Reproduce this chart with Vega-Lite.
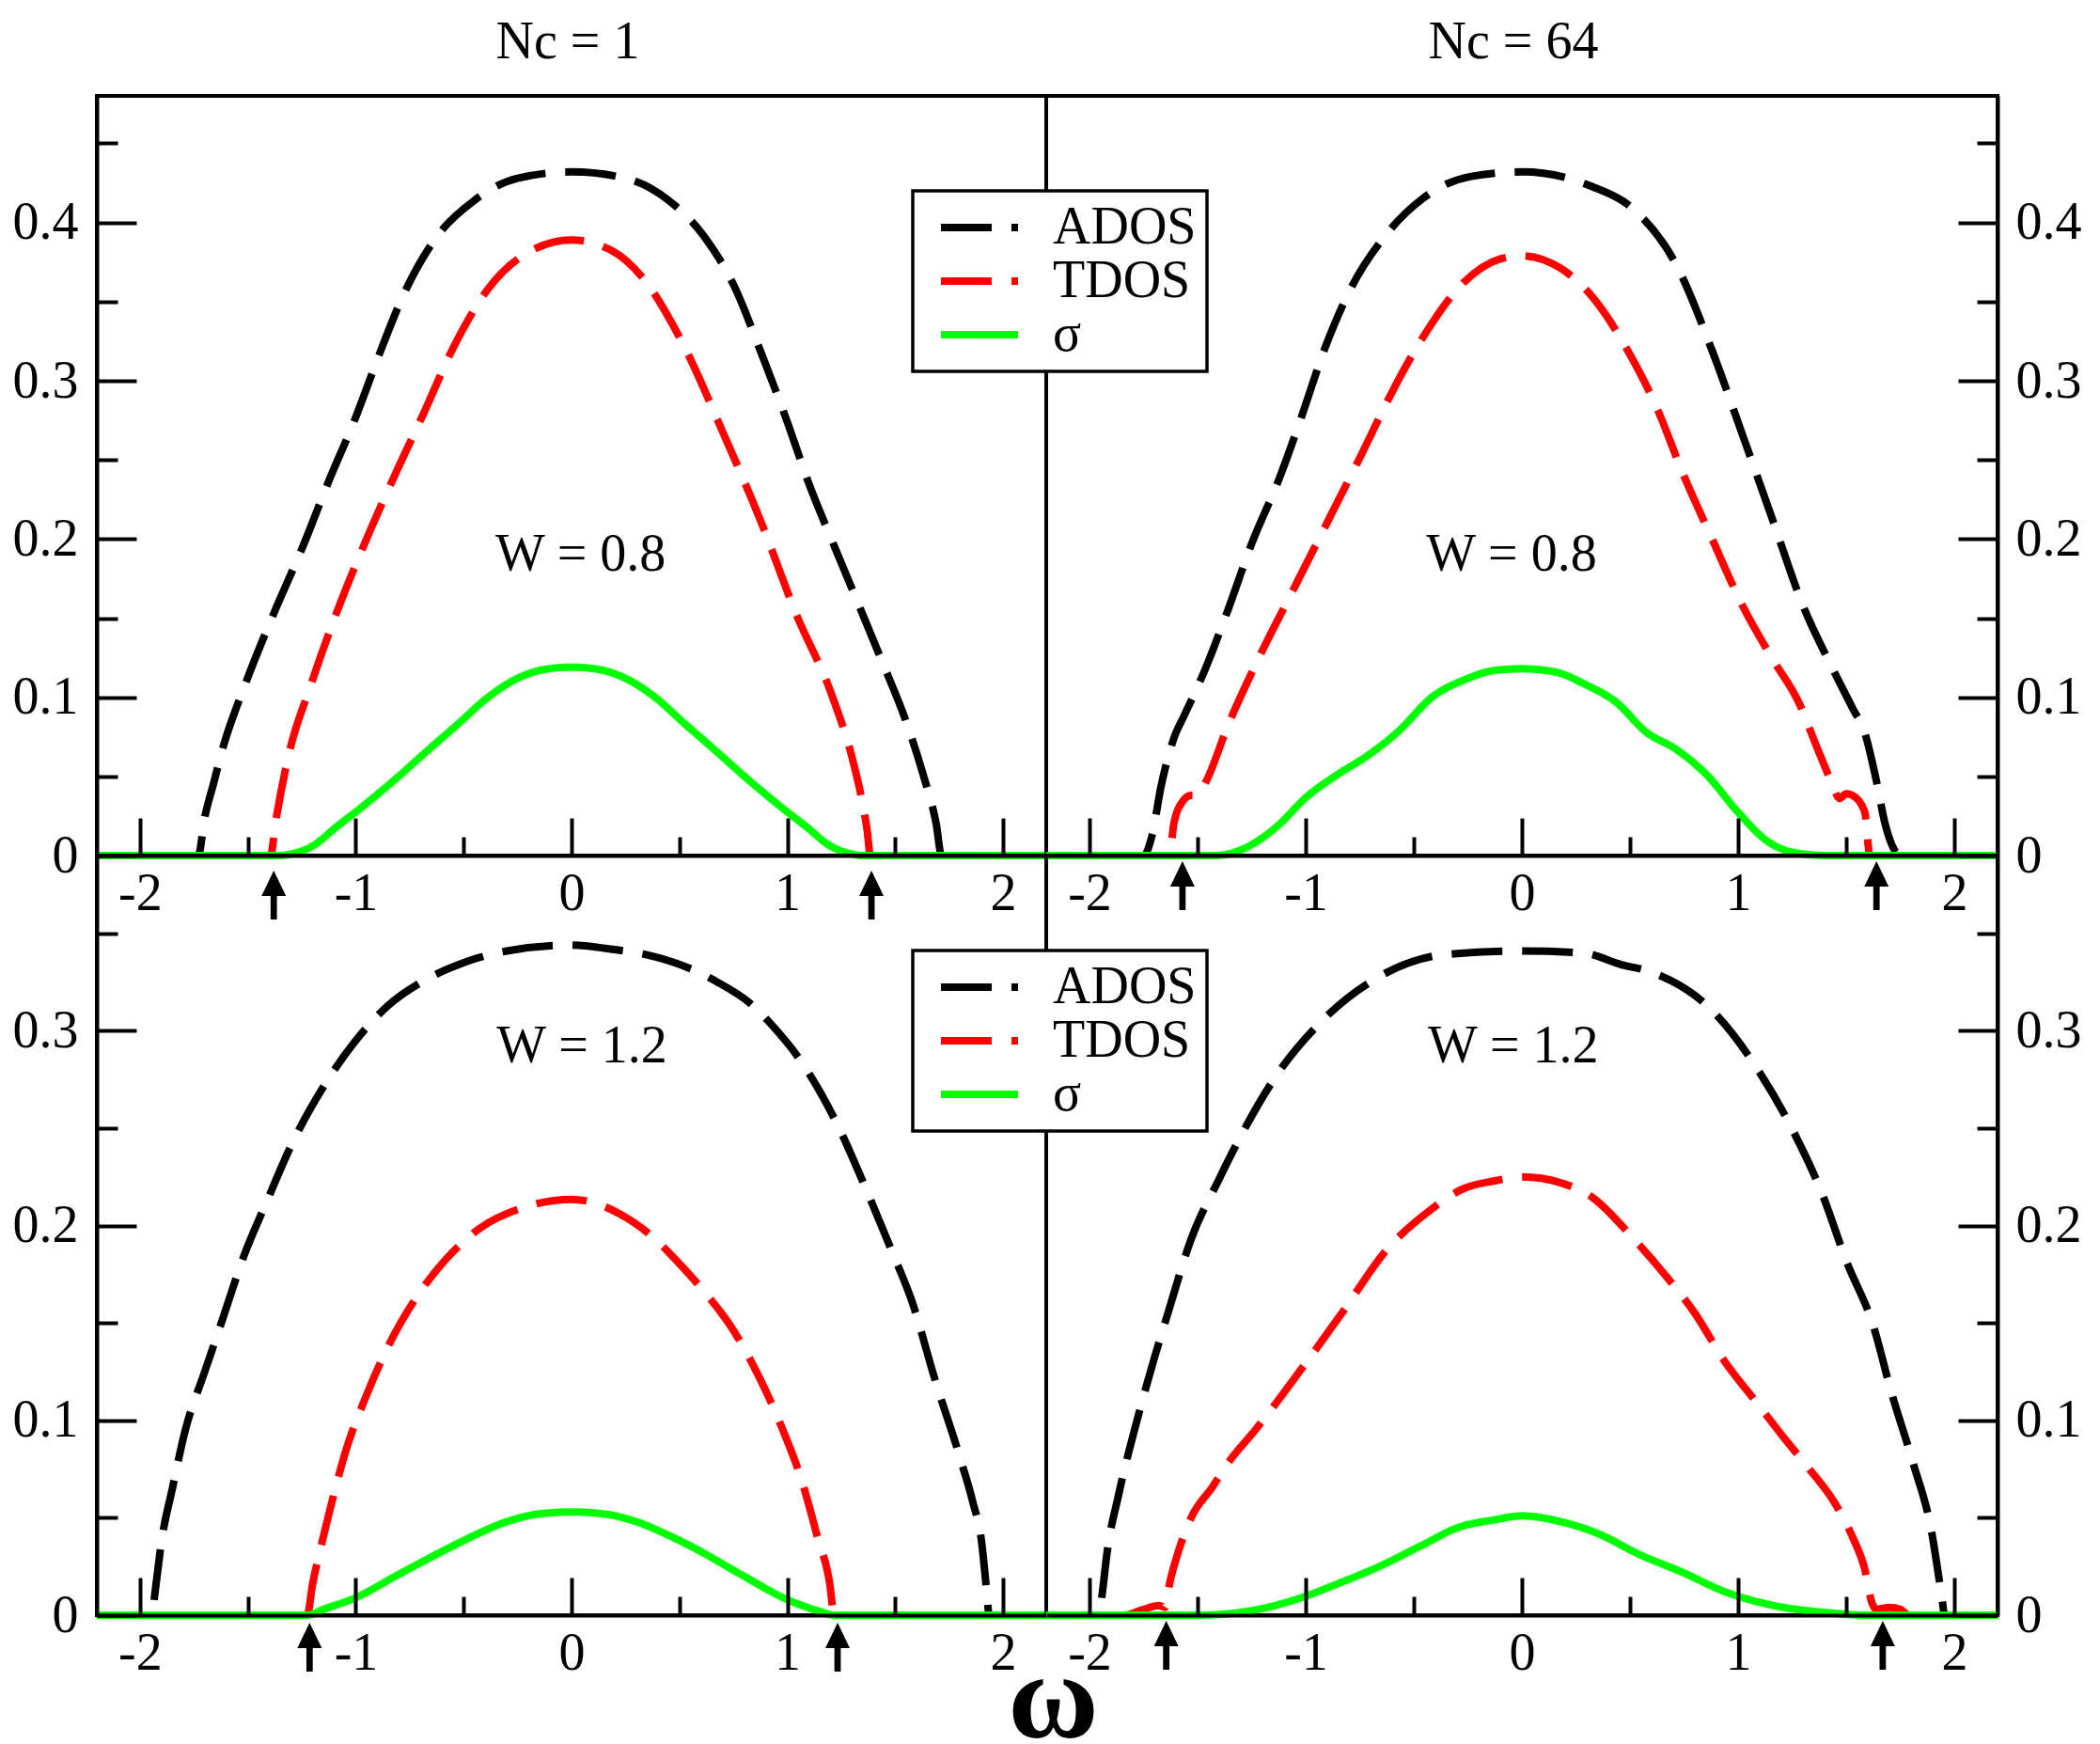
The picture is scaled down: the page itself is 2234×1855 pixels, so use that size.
{
  "$schema": "https://vega.github.io/schema/vega-lite/v6.json",
  "background": "white",
  "padding": {"left": 11, "top": 15, "right": 12, "bottom": 5},
  "columns": 2,
  "spacing": 0,
  "bounds": "flush",
  "resolve": {"scale": {"color": "independent", "strokeDash": "independent"}, "legend": {"color": "independent", "strokeDash": "independent"}},
  "config": {
    "view": {"stroke": "black", "strokeWidth": 4},
    "font": "Liberation Serif",
    "axis": {
      "grid": false,
      "domainColor": "black",
      "domainWidth": 4,
      "tickColor": "black",
      "tickWidth": 4,
      "labelFont": "Liberation Serif",
      "labelFontSize": 56,
      "labelColor": "black",
      "labelFlush": false,
      "labelOverlap": false,
      "labelBound": false
    },
    "legend": {"strokeWidth": 3.5}
  },
  "datasets": {
    "tl": [
      {"s": "ADOS", "x": -2.2, "y": 0}, {"s": "ADOS", "x": -1.73, "y": 0}, {"s": "ADOS", "x": -1.7, "y": 0.024},
      {"s": "ADOS", "x": -1.66, "y": 0.045}, {"s": "ADOS", "x": -1.62, "y": 0.066}, {"s": "ADOS", "x": -1.51, "y": 0.109},
      {"s": "ADOS", "x": -1.38, "y": 0.153}, {"s": "ADOS", "x": -1.24, "y": 0.197}, {"s": "ADOS", "x": -1.13, "y": 0.235},
      {"s": "ADOS", "x": -1.0, "y": 0.277}, {"s": "ADOS", "x": -0.89, "y": 0.317}, {"s": "ADOS", "x": -0.78, "y": 0.354},
      {"s": "ADOS", "x": -0.63, "y": 0.39}, {"s": "ADOS", "x": -0.45, "y": 0.414}, {"s": "ADOS", "x": -0.25, "y": 0.428},
      {"s": "ADOS", "x": 0, "y": 0.432}, {"s": "ADOS", "x": 0.25, "y": 0.428}, {"s": "ADOS", "x": 0.45, "y": 0.414},
      {"s": "ADOS", "x": 0.61, "y": 0.392}, {"s": "ADOS", "x": 0.76, "y": 0.358}, {"s": "ADOS", "x": 0.875, "y": 0.319},
      {"s": "ADOS", "x": 1.0, "y": 0.274}, {"s": "ADOS", "x": 1.1, "y": 0.235}, {"s": "ADOS", "x": 1.21, "y": 0.198},
      {"s": "ADOS", "x": 1.32, "y": 0.162}, {"s": "ADOS", "x": 1.435, "y": 0.124}, {"s": "ADOS", "x": 1.547, "y": 0.086},
      {"s": "ADOS", "x": 1.63, "y": 0.051}, {"s": "ADOS", "x": 1.69, "y": 0.02}, {"s": "ADOS", "x": 1.715, "y": 0},
      {"s": "ADOS", "x": 2.2, "y": 0},
      {"s": "TDOS", "x": -2.2, "y": 0}, {"s": "TDOS", "x": -1.396, "y": 0}, {"s": "TDOS", "x": -1.368, "y": 0.024},
      {"s": "TDOS", "x": -1.31, "y": 0.064}, {"s": "TDOS", "x": -1.21, "y": 0.107}, {"s": "TDOS", "x": -1.09, "y": 0.153},
      {"s": "TDOS", "x": -0.95, "y": 0.2}, {"s": "TDOS", "x": -0.81, "y": 0.243}, {"s": "TDOS", "x": -0.68, "y": 0.281},
      {"s": "TDOS", "x": -0.555, "y": 0.319}, {"s": "TDOS", "x": -0.387, "y": 0.358}, {"s": "TDOS", "x": -0.19, "y": 0.382},
      {"s": "TDOS", "x": 0, "y": 0.389}, {"s": "TDOS", "x": 0.19, "y": 0.382}, {"s": "TDOS", "x": 0.342, "y": 0.363},
      {"s": "TDOS", "x": 0.51, "y": 0.325}, {"s": "TDOS", "x": 0.706, "y": 0.266}, {"s": "TDOS", "x": 0.875, "y": 0.212},
      {"s": "TDOS", "x": 1.04, "y": 0.153}, {"s": "TDOS", "x": 1.21, "y": 0.1}, {"s": "TDOS", "x": 1.3, "y": 0.062},
      {"s": "TDOS", "x": 1.35, "y": 0.032}, {"s": "TDOS", "x": 1.37, "y": 0.016}, {"s": "TDOS", "x": 1.385, "y": 0},
      {"s": "TDOS", "x": 2.2, "y": 0},
      {"s": "σ", "x": -2.2, "y": 0}, {"s": "σ", "x": -1.35, "y": 0}, {"s": "σ", "x": -1.3, "y": 0.001},
      {"s": "σ", "x": -1.2, "y": 0.006}, {"s": "σ", "x": -1.09, "y": 0.018}, {"s": "σ", "x": -0.95, "y": 0.033},
      {"s": "σ", "x": -0.81, "y": 0.049}, {"s": "σ", "x": -0.67, "y": 0.066}, {"s": "σ", "x": -0.527, "y": 0.083},
      {"s": "σ", "x": -0.387, "y": 0.1}, {"s": "σ", "x": -0.25, "y": 0.112}, {"s": "σ", "x": -0.107, "y": 0.118},
      {"s": "σ", "x": 0, "y": 0.119}, {"s": "σ", "x": 0.107, "y": 0.118}, {"s": "σ", "x": 0.25, "y": 0.112},
      {"s": "σ", "x": 0.387, "y": 0.1}, {"s": "σ", "x": 0.527, "y": 0.083}, {"s": "σ", "x": 0.67, "y": 0.066},
      {"s": "σ", "x": 0.81, "y": 0.049}, {"s": "σ", "x": 0.95, "y": 0.033}, {"s": "σ", "x": 1.09, "y": 0.018},
      {"s": "σ", "x": 1.2, "y": 0.006}, {"s": "σ", "x": 1.3, "y": 0.001}, {"s": "σ", "x": 1.35, "y": 0},
      {"s": "σ", "x": 2.2, "y": 0}
    ],
    "tr": [
      {"s": "ADOS", "x": -2.2, "y": 0}, {"s": "ADOS", "x": -1.75, "y": 0}, {"s": "ADOS", "x": -1.71, "y": 0.013},
      {"s": "ADOS", "x": -1.67, "y": 0.043}, {"s": "ADOS", "x": -1.61, "y": 0.074}, {"s": "ADOS", "x": -1.56, "y": 0.089},
      {"s": "ADOS", "x": -1.47, "y": 0.116}, {"s": "ADOS", "x": -1.36, "y": 0.155}, {"s": "ADOS", "x": -1.25, "y": 0.197},
      {"s": "ADOS", "x": -1.12, "y": 0.239}, {"s": "ADOS", "x": -1.02, "y": 0.277}, {"s": "ADOS", "x": -0.91, "y": 0.321},
      {"s": "ADOS", "x": -0.8, "y": 0.356}, {"s": "ADOS", "x": -0.63, "y": 0.392}, {"s": "ADOS", "x": -0.46, "y": 0.415},
      {"s": "ADOS", "x": -0.24, "y": 0.429}, {"s": "ADOS", "x": 0, "y": 0.432}, {"s": "ADOS", "x": 0.32, "y": 0.423},
      {"s": "ADOS", "x": 0.52, "y": 0.408}, {"s": "ADOS", "x": 0.715, "y": 0.373}, {"s": "ADOS", "x": 0.88, "y": 0.319},
      {"s": "ADOS", "x": 1.02, "y": 0.266}, {"s": "ADOS", "x": 1.16, "y": 0.212}, {"s": "ADOS", "x": 1.3, "y": 0.158},
      {"s": "ADOS", "x": 1.445, "y": 0.116}, {"s": "ADOS", "x": 1.53, "y": 0.093}, {"s": "ADOS", "x": 1.585, "y": 0.078},
      {"s": "ADOS", "x": 1.64, "y": 0.047}, {"s": "ADOS", "x": 1.68, "y": 0.02}, {"s": "ADOS", "x": 1.725, "y": 0.003},
      {"s": "ADOS", "x": 1.75, "y": 0}, {"s": "ADOS", "x": 2.2, "y": 0},
      {"s": "TDOS", "x": -2.2, "y": 0}, {"s": "TDOS", "x": -1.63, "y": 0}, {"s": "TDOS", "x": -1.61, "y": 0.02},
      {"s": "TDOS", "x": -1.57, "y": 0.034}, {"s": "TDOS", "x": -1.53, "y": 0.038}, {"s": "TDOS", "x": -1.5, "y": 0.038},
      {"s": "TDOS", "x": -1.46, "y": 0.047}, {"s": "TDOS", "x": -1.36, "y": 0.082}, {"s": "TDOS", "x": -1.22, "y": 0.124},
      {"s": "TDOS", "x": -1.05, "y": 0.17}, {"s": "TDOS", "x": -0.88, "y": 0.216}, {"s": "TDOS", "x": -0.74, "y": 0.254},
      {"s": "TDOS", "x": -0.6, "y": 0.293}, {"s": "TDOS", "x": -0.46, "y": 0.327}, {"s": "TDOS", "x": -0.27, "y": 0.362},
      {"s": "TDOS", "x": -0.1, "y": 0.377}, {"s": "TDOS", "x": 0, "y": 0.379}, {"s": "TDOS", "x": 0.18, "y": 0.371},
      {"s": "TDOS", "x": 0.32, "y": 0.354}, {"s": "TDOS", "x": 0.49, "y": 0.319}, {"s": "TDOS", "x": 0.63, "y": 0.281},
      {"s": "TDOS", "x": 0.74, "y": 0.243}, {"s": "TDOS", "x": 0.88, "y": 0.2}, {"s": "TDOS", "x": 1.02, "y": 0.158},
      {"s": "TDOS", "x": 1.16, "y": 0.124}, {"s": "TDOS", "x": 1.28, "y": 0.097}, {"s": "TDOS", "x": 1.36, "y": 0.07},
      {"s": "TDOS", "x": 1.43, "y": 0.047}, {"s": "TDOS", "x": 1.47, "y": 0.036}, {"s": "TDOS", "x": 1.5, "y": 0.039},
      {"s": "TDOS", "x": 1.53, "y": 0.038}, {"s": "TDOS", "x": 1.585, "y": 0.028}, {"s": "TDOS", "x": 1.61, "y": 0},
      {"s": "TDOS", "x": 2.2, "y": 0},
      {"s": "σ", "x": -2.2, "y": 0}, {"s": "σ", "x": -1.42, "y": 0}, {"s": "σ", "x": -1.276, "y": 0.005},
      {"s": "σ", "x": -1.136, "y": 0.018}, {"s": "σ", "x": -0.996, "y": 0.037}, {"s": "σ", "x": -0.855, "y": 0.051},
      {"s": "σ", "x": -0.715, "y": 0.063}, {"s": "σ", "x": -0.575, "y": 0.078}, {"s": "σ", "x": -0.407, "y": 0.101},
      {"s": "σ", "x": -0.266, "y": 0.111}, {"s": "σ", "x": -0.126, "y": 0.117}, {"s": "σ", "x": 0, "y": 0.118},
      {"s": "σ", "x": 0.154, "y": 0.116}, {"s": "σ", "x": 0.295, "y": 0.108}, {"s": "σ", "x": 0.435, "y": 0.097},
      {"s": "σ", "x": 0.575, "y": 0.078}, {"s": "σ", "x": 0.715, "y": 0.067}, {"s": "σ", "x": 0.855, "y": 0.051},
      {"s": "σ", "x": 0.996, "y": 0.028}, {"s": "σ", "x": 1.136, "y": 0.009}, {"s": "σ", "x": 1.3, "y": 0.001},
      {"s": "σ", "x": 1.42, "y": 0}, {"s": "σ", "x": 2.2, "y": 0}
    ],
    "bl": [
      {"s": "ADOS", "x": -2.2, "y": 0}, {"s": "ADOS", "x": -1.945, "y": 0}, {"s": "ADOS", "x": -1.93, "y": 0.012},
      {"s": "ADOS", "x": -1.9, "y": 0.038}, {"s": "ADOS", "x": -1.85, "y": 0.065}, {"s": "ADOS", "x": -1.79, "y": 0.095},
      {"s": "ADOS", "x": -1.7, "y": 0.125}, {"s": "ADOS", "x": -1.62, "y": 0.151}, {"s": "ADOS", "x": -1.52, "y": 0.184},
      {"s": "ADOS", "x": -1.41, "y": 0.213}, {"s": "ADOS", "x": -1.3, "y": 0.241}, {"s": "ADOS", "x": -1.14, "y": 0.273},
      {"s": "ADOS", "x": -1.0, "y": 0.295}, {"s": "ADOS", "x": -0.85, "y": 0.313}, {"s": "ADOS", "x": -0.68, "y": 0.326},
      {"s": "ADOS", "x": -0.5, "y": 0.335}, {"s": "ADOS", "x": -0.3, "y": 0.341}, {"s": "ADOS", "x": 0, "y": 0.344},
      {"s": "ADOS", "x": 0.18, "y": 0.342}, {"s": "ADOS", "x": 0.35, "y": 0.339}, {"s": "ADOS", "x": 0.57, "y": 0.331},
      {"s": "ADOS", "x": 0.66, "y": 0.326}, {"s": "ADOS", "x": 0.85, "y": 0.312}, {"s": "ADOS", "x": 0.92, "y": 0.304},
      {"s": "ADOS", "x": 1.066, "y": 0.284}, {"s": "ADOS", "x": 1.227, "y": 0.253}, {"s": "ADOS", "x": 1.364, "y": 0.219},
      {"s": "ADOS", "x": 1.488, "y": 0.186}, {"s": "ADOS", "x": 1.575, "y": 0.162}, {"s": "ADOS", "x": 1.687, "y": 0.12},
      {"s": "ADOS", "x": 1.8, "y": 0.081}, {"s": "ADOS", "x": 1.86, "y": 0.058}, {"s": "ADOS", "x": 1.9, "y": 0.038},
      {"s": "ADOS", "x": 1.925, "y": 0.011}, {"s": "ADOS", "x": 1.935, "y": 0}, {"s": "ADOS", "x": 2.2, "y": 0},
      {"s": "TDOS", "x": -2.2, "y": 0}, {"s": "TDOS", "x": -1.225, "y": 0}, {"s": "TDOS", "x": -1.2, "y": 0.016},
      {"s": "TDOS", "x": -1.17, "y": 0.031}, {"s": "TDOS", "x": -1.12, "y": 0.054}, {"s": "TDOS", "x": -1.05, "y": 0.083},
      {"s": "TDOS", "x": -0.95, "y": 0.113}, {"s": "TDOS", "x": -0.85, "y": 0.138}, {"s": "TDOS", "x": -0.72, "y": 0.163},
      {"s": "TDOS", "x": -0.58, "y": 0.183}, {"s": "TDOS", "x": -0.42, "y": 0.199}, {"s": "TDOS", "x": -0.23, "y": 0.209},
      {"s": "TDOS", "x": 0, "y": 0.2135}, {"s": "TDOS", "x": 0.224, "y": 0.206}, {"s": "TDOS", "x": 0.408, "y": 0.191},
      {"s": "TDOS", "x": 0.478, "y": 0.183}, {"s": "TDOS", "x": 0.623, "y": 0.165}, {"s": "TDOS", "x": 0.734, "y": 0.149},
      {"s": "TDOS", "x": 0.875, "y": 0.121}, {"s": "TDOS", "x": 0.987, "y": 0.093}, {"s": "TDOS", "x": 1.07, "y": 0.068},
      {"s": "TDOS", "x": 1.14, "y": 0.04}, {"s": "TDOS", "x": 1.197, "y": 0.016}, {"s": "TDOS", "x": 1.217, "y": 0},
      {"s": "TDOS", "x": 2.2, "y": 0},
      {"s": "σ", "x": -2.2, "y": 0}, {"s": "σ", "x": -1.225, "y": 0}, {"s": "σ", "x": -1.15, "y": 0.003},
      {"s": "σ", "x": -1.0, "y": 0.009}, {"s": "σ", "x": -0.8, "y": 0.021}, {"s": "σ", "x": -0.56, "y": 0.035},
      {"s": "σ", "x": -0.45, "y": 0.041}, {"s": "σ", "x": -0.3, "y": 0.048}, {"s": "σ", "x": -0.15, "y": 0.052},
      {"s": "σ", "x": 0, "y": 0.053}, {"s": "σ", "x": 0.15, "y": 0.052}, {"s": "σ", "x": 0.3, "y": 0.048},
      {"s": "σ", "x": 0.45, "y": 0.041}, {"s": "σ", "x": 0.56, "y": 0.035}, {"s": "σ", "x": 0.8, "y": 0.02},
      {"s": "σ", "x": 1.0, "y": 0.008}, {"s": "σ", "x": 1.15, "y": 0.002}, {"s": "σ", "x": 1.22, "y": 0},
      {"s": "σ", "x": 2.2, "y": 0}
    ],
    "br": [
      {"s": "ADOS", "x": -2.2, "y": 0}, {"s": "ADOS", "x": -1.955, "y": 0}, {"s": "ADOS", "x": -1.94, "y": 0.012},
      {"s": "ADOS", "x": -1.92, "y": 0.031}, {"s": "ADOS", "x": -1.865, "y": 0.062}, {"s": "ADOS", "x": -1.78, "y": 0.1},
      {"s": "ADOS", "x": -1.7, "y": 0.132}, {"s": "ADOS", "x": -1.64, "y": 0.154}, {"s": "ADOS", "x": -1.53, "y": 0.193},
      {"s": "ADOS", "x": -1.4, "y": 0.224}, {"s": "ADOS", "x": -1.3, "y": 0.246}, {"s": "ADOS", "x": -1.136, "y": 0.277},
      {"s": "ADOS", "x": -0.926, "y": 0.305}, {"s": "ADOS", "x": -0.673, "y": 0.327}, {"s": "ADOS", "x": -0.365, "y": 0.339},
      {"s": "ADOS", "x": 0, "y": 0.341}, {"s": "ADOS", "x": 0.28, "y": 0.34}, {"s": "ADOS", "x": 0.46, "y": 0.334},
      {"s": "ADOS", "x": 0.603, "y": 0.33}, {"s": "ADOS", "x": 0.884, "y": 0.31}, {"s": "ADOS", "x": 1.08, "y": 0.282},
      {"s": "ADOS", "x": 1.248, "y": 0.25}, {"s": "ADOS", "x": 1.39, "y": 0.216}, {"s": "ADOS", "x": 1.5, "y": 0.182},
      {"s": "ADOS", "x": 1.627, "y": 0.148}, {"s": "ADOS", "x": 1.71, "y": 0.114}, {"s": "ADOS", "x": 1.81, "y": 0.078},
      {"s": "ADOS", "x": 1.893, "y": 0.044}, {"s": "ADOS", "x": 1.944, "y": 0.008}, {"s": "ADOS", "x": 1.955, "y": 0},
      {"s": "ADOS", "x": 2.2, "y": 0},
      {"s": "TDOS", "x": -2.2, "y": 0}, {"s": "TDOS", "x": -1.84, "y": 0}, {"s": "TDOS", "x": -1.75, "y": 0.003},
      {"s": "TDOS", "x": -1.68, "y": 0.005}, {"s": "TDOS", "x": -1.65, "y": 0.004}, {"s": "TDOS", "x": -1.63, "y": 0.016},
      {"s": "TDOS", "x": -1.585, "y": 0.034}, {"s": "TDOS", "x": -1.53, "y": 0.05}, {"s": "TDOS", "x": -1.43, "y": 0.066},
      {"s": "TDOS", "x": -1.36, "y": 0.078}, {"s": "TDOS", "x": -1.234, "y": 0.095}, {"s": "TDOS", "x": -1.136, "y": 0.109},
      {"s": "TDOS", "x": -0.996, "y": 0.13}, {"s": "TDOS", "x": -0.827, "y": 0.156}, {"s": "TDOS", "x": -0.63, "y": 0.187},
      {"s": "TDOS", "x": -0.435, "y": 0.207}, {"s": "TDOS", "x": -0.27, "y": 0.219}, {"s": "TDOS", "x": -0.126, "y": 0.223},
      {"s": "TDOS", "x": 0, "y": 0.225}, {"s": "TDOS", "x": 0.18, "y": 0.222}, {"s": "TDOS", "x": 0.32, "y": 0.215},
      {"s": "TDOS", "x": 0.519, "y": 0.193}, {"s": "TDOS", "x": 0.66, "y": 0.175}, {"s": "TDOS", "x": 0.8, "y": 0.155},
      {"s": "TDOS", "x": 0.94, "y": 0.13}, {"s": "TDOS", "x": 1.08, "y": 0.11}, {"s": "TDOS", "x": 1.22, "y": 0.09},
      {"s": "TDOS", "x": 1.33, "y": 0.075}, {"s": "TDOS", "x": 1.445, "y": 0.058}, {"s": "TDOS", "x": 1.53, "y": 0.04},
      {"s": "TDOS", "x": 1.585, "y": 0.024}, {"s": "TDOS", "x": 1.62, "y": 0.006}, {"s": "TDOS", "x": 1.64, "y": 0.003},
      {"s": "TDOS", "x": 1.7, "y": 0.004}, {"s": "TDOS", "x": 1.75, "y": 0.003}, {"s": "TDOS", "x": 1.79, "y": 0},
      {"s": "TDOS", "x": 2.2, "y": 0},
      {"s": "σ", "x": -2.2, "y": 0}, {"s": "σ", "x": -1.5, "y": 0}, {"s": "σ", "x": -1.22, "y": 0.003},
      {"s": "σ", "x": -1.02, "y": 0.009}, {"s": "σ", "x": -0.855, "y": 0.016}, {"s": "σ", "x": -0.66, "y": 0.025},
      {"s": "σ", "x": -0.46, "y": 0.036}, {"s": "σ", "x": -0.295, "y": 0.045}, {"s": "σ", "x": -0.126, "y": 0.049},
      {"s": "σ", "x": 0, "y": 0.051}, {"s": "σ", "x": 0.18, "y": 0.048}, {"s": "σ", "x": 0.35, "y": 0.042},
      {"s": "σ", "x": 0.547, "y": 0.031}, {"s": "σ", "x": 0.743, "y": 0.022}, {"s": "σ", "x": 0.94, "y": 0.012},
      {"s": "σ", "x": 1.164, "y": 0.005}, {"s": "σ", "x": 1.445, "y": 0.001}, {"s": "σ", "x": 1.585, "y": 0},
      {"s": "σ", "x": 2.2, "y": 0}
    ]
  },
  "concat": [
    {
      "width": 1010,
      "height": 808,
      "title": {"text": "Nc = 1", "frame": "group", "anchor": "middle", "baseline": "alphabetic", "offset": -16, "dx": -4, "font": "Liberation Serif", "fontSize": 56, "fontWeight": "normal", "color": "black"},
      "layer": [
        {
          "data": {"name": "tl"},
          "mark": {"type": "line", "strokeWidth": 8, "interpolate": "monotone"},
          "encoding": {
            "x": {"field": "x", "type": "quantitative", "scale": {"domain": [-2.2, 2.2], "nice": false, "zero": false},
              "axis": {"values": [-2, -1.5, -1, -0.5, 0, 0.5, 1, 1.5, 2], "title": null, "zindex": 1,
                "labelExpr": "datum.value % 1 === 0 ? replace(format(datum.value, 'd'), '−', '-') : ''",
                "tickSize": {"condition": {"test": "datum.value % 1 === 0", "value": -40}, "value": -20},
                "labelPadding": 53}},
            "y": {"field": "y", "type": "quantitative", "scale": {"domain": [0, 0.48], "nice": false},
              "axis": {"orient": "left", "values": [0, 0.05, 0.1, 0.15, 0.2, 0.25, 0.3, 0.35, 0.4, 0.45], "title": null, "zindex": 1,
                "labelExpr": "abs(datum.value * 10 - round(datum.value * 10)) < 0.01 ? format(datum.value, '.1~f') : ''",
                "tickSize": {"condition": {"test": "abs(datum.value * 10 - round(datum.value * 10)) < 0.01", "value": -42}, "value": -22},
                "labelPadding": 62}},
            "color": {"field": "s", "type": "nominal", "scale": {"domain": ["ADOS", "TDOS", "σ"], "range": ["#000000", "#ff0000", "#00ff00"]}, "legend": null},
            "strokeDash": {"field": "s", "type": "nominal", "scale": {"domain": ["ADOS", "TDOS", "σ"], "range": [[54, 21], [54, 21], [1, 0]]}, "legend": null}
          }
        },
        {
          "data": {"values": [{"x": -1.38}, {"x": 1.39}]},
          "mark": {"type": "point", "shape": "M0,-1L0.5,0.04L0.13,0.04L0.13,1L-0.13,1L-0.13,0.04L-0.5,0.04Z", "size": 2704, "filled": true, "color": "black", "opacity": 1, "strokeWidth": 0, "yOffset": 42},
          "encoding": {
            "x": {"field": "x", "type": "quantitative", "scale": {"domain": [-2.2, 2.2], "nice": false, "zero": false}},
            "y": {"datum": 0, "type": "quantitative", "scale": {"domain": [0, 0.48], "nice": false}}
          }
        },
        {
          "data": {"values": [{"x": 0.042, "y": 0.19, "t": "W = 0.8"}]},
          "mark": {"type": "text", "font": "Liberation Serif", "fontSize": 56, "color": "black", "align": "center", "baseline": "middle"},
          "encoding": {
            "x": {"field": "x", "type": "quantitative", "scale": {"domain": [-2.2, 2.2], "nice": false, "zero": false}},
            "y": {"field": "y", "type": "quantitative", "scale": {"domain": [0, 0.48], "nice": false}},
            "text": {"field": "t"}
          }
        }
      ]
    },
    {
      "width": 1012,
      "height": 808,
      "title": {"text": "Nc = 64", "frame": "group", "anchor": "middle", "baseline": "alphabetic", "offset": -16, "dx": -9, "font": "Liberation Serif", "fontSize": 56, "fontWeight": "normal", "color": "black"},
      "layer": [
        {
          "data": {"name": "tr"},
          "mark": {"type": "line", "strokeWidth": 8, "interpolate": "monotone"},
          "encoding": {
            "x": {"field": "x", "type": "quantitative", "scale": {"domain": [-2.2, 2.2], "nice": false, "zero": false},
              "axis": {"values": [-2, -1.5, -1, -0.5, 0, 0.5, 1, 1.5, 2], "title": null, "zindex": 1,
                "labelExpr": "datum.value % 1 === 0 ? replace(format(datum.value, 'd'), '−', '-') : ''",
                "tickSize": {"condition": {"test": "datum.value % 1 === 0", "value": -40}, "value": -20},
                "labelPadding": 53}},
            "y": {"field": "y", "type": "quantitative", "scale": {"domain": [0, 0.48], "nice": false},
              "axis": {"orient": "right", "values": [0, 0.05, 0.1, 0.15, 0.2, 0.25, 0.3, 0.35, 0.4, 0.45], "title": null, "zindex": 1,
                "labelExpr": "abs(datum.value * 10 - round(datum.value * 10)) < 0.01 ? format(datum.value, '.1~f') : ''",
                "tickSize": {"condition": {"test": "abs(datum.value * 10 - round(datum.value * 10)) < 0.01", "value": -42}, "value": -22},
                "labelPadding": 61}},
            "color": {"field": "s", "type": "nominal", "scale": {"domain": ["ADOS", "TDOS", "σ"], "range": ["#000000", "#ff0000", "#00ff00"]},
              "legend": {"orient": "none", "legendX": -142, "legendY": 101, "title": null, "symbolType": "stroke", "symbolSize": 6724, "symbolStrokeWidth": 8, "symbolOffset": 15, "labelOffset": 33, "labelFont": "Liberation Serif", "labelFontSize": 56, "labelColor": "black", "labelLimit": 400, "padding": 11, "clipHeight": 56, "rowPadding": 1, "strokeColor": "black", "fillColor": "white", "labelExpr": "(datum.label === 'σ' ? '\u00a0σ' : datum.label) + '\u2009'", "zindex": 1}},
            "strokeDash": {"field": "s", "type": "nominal", "scale": {"domain": ["ADOS", "TDOS", "σ"], "range": [[54, 21], [54, 21], [1, 0]]},
              "legend": {"orient": "none", "legendX": -142, "legendY": 101, "title": null, "symbolType": "stroke", "symbolSize": 6724, "symbolStrokeWidth": 8, "symbolOffset": 15, "labelOffset": 33, "labelFont": "Liberation Serif", "labelFontSize": 56, "labelColor": "black", "labelLimit": 400, "padding": 11, "clipHeight": 56, "rowPadding": 1, "strokeColor": "black", "fillColor": "white", "labelExpr": "(datum.label === 'σ' ? '\u00a0σ' : datum.label) + '\u2009'", "zindex": 1}}
          }
        },
        {
          "data": {"values": [{"x": -1.57}, {"x": 1.64}]},
          "mark": {"type": "point", "shape": "M0,-1L0.5,0.04L0.13,0.04L0.13,1L-0.13,1L-0.13,0.04L-0.5,0.04Z", "size": 2704, "filled": true, "color": "black", "opacity": 1, "strokeWidth": 0, "yOffset": 32},
          "encoding": {
            "x": {"field": "x", "type": "quantitative", "scale": {"domain": [-2.2, 2.2], "nice": false, "zero": false}},
            "y": {"datum": 0, "type": "quantitative", "scale": {"domain": [0, 0.48], "nice": false}}
          }
        },
        {
          "data": {"values": [{"x": -0.048, "y": 0.19, "t": "W = 0.8"}]},
          "mark": {"type": "text", "font": "Liberation Serif", "fontSize": 56, "color": "black", "align": "center", "baseline": "middle"},
          "encoding": {
            "x": {"field": "x", "type": "quantitative", "scale": {"domain": [-2.2, 2.2], "nice": false, "zero": false}},
            "y": {"field": "y", "type": "quantitative", "scale": {"domain": [0, 0.48], "nice": false}},
            "text": {"field": "t"}
          }
        }
      ]
    },
    {
      "width": 1010,
      "height": 808,
      "layer": [
        {
          "data": {"name": "bl"},
          "mark": {"type": "line", "strokeWidth": 8, "interpolate": "monotone"},
          "encoding": {
            "x": {"field": "x", "type": "quantitative", "scale": {"domain": [-2.2, 2.2], "nice": false, "zero": false},
              "axis": {"values": [-2, -1.5, -1, -0.5, 0, 0.5, 1, 1.5, 2], "zindex": 1,
                "labelExpr": "datum.value % 1 === 0 ? replace(format(datum.value, 'd'), '−', '-') : ''",
                "tickSize": {"condition": {"test": "datum.value % 1 === 0", "value": -40}, "value": -20},
                "labelPadding": 53,
                "title": "ω", "titleFont": "Liberation Serif", "titleFontSize": 132, "titleFontWeight": "bold", "titleColor": "black",
                "titleX": 1017, "titleY": 129, "titleAlign": "center", "titleBaseline": "alphabetic"}},
            "y": {"field": "y", "type": "quantitative", "scale": {"domain": [0, 0.39], "nice": false},
              "axis": {"orient": "left", "values": [0, 0.05, 0.1, 0.15, 0.2, 0.25, 0.3, 0.35], "title": null, "zindex": 1,
                "labelExpr": "abs(datum.value * 10 - round(datum.value * 10)) < 0.01 ? format(datum.value, '.1~f') : ''",
                "tickSize": {"condition": {"test": "abs(datum.value * 10 - round(datum.value * 10)) < 0.01", "value": -42}, "value": -22},
                "labelPadding": 62}},
            "color": {"field": "s", "type": "nominal", "scale": {"domain": ["ADOS", "TDOS", "σ"], "range": ["#000000", "#ff0000", "#00ff00"]}, "legend": null},
            "strokeDash": {"field": "s", "type": "nominal", "scale": {"domain": ["ADOS", "TDOS", "σ"], "range": [[54, 21], [54, 21], [1, 0]]}, "legend": null}
          }
        },
        {
          "data": {"values": [{"x": -1.214}, {"x": 1.233}]},
          "mark": {"type": "point", "shape": "M0,-1L0.5,0.04L0.13,0.04L0.13,1L-0.13,1L-0.13,0.04L-0.5,0.04Z", "size": 2704, "filled": true, "color": "black", "opacity": 1, "strokeWidth": 0, "yOffset": 34},
          "encoding": {
            "x": {"field": "x", "type": "quantitative", "scale": {"domain": [-2.2, 2.2], "nice": false, "zero": false}},
            "y": {"datum": 0, "type": "quantitative", "scale": {"domain": [0, 0.39], "nice": false}}
          }
        },
        {
          "data": {"values": [{"x": 0.048, "y": 0.292, "t": "W = 1.2"}]},
          "mark": {"type": "text", "font": "Liberation Serif", "fontSize": 56, "color": "black", "align": "center", "baseline": "middle"},
          "encoding": {
            "x": {"field": "x", "type": "quantitative", "scale": {"domain": [-2.2, 2.2], "nice": false, "zero": false}},
            "y": {"field": "y", "type": "quantitative", "scale": {"domain": [0, 0.39], "nice": false}},
            "text": {"field": "t"}
          }
        }
      ]
    },
    {
      "width": 1012,
      "height": 808,
      "layer": [
        {
          "data": {"name": "br"},
          "mark": {"type": "line", "strokeWidth": 8, "interpolate": "monotone"},
          "encoding": {
            "x": {"field": "x", "type": "quantitative", "scale": {"domain": [-2.2, 2.2], "nice": false, "zero": false},
              "axis": {"values": [-2, -1.5, -1, -0.5, 0, 0.5, 1, 1.5, 2], "title": null, "zindex": 1,
                "labelExpr": "datum.value % 1 === 0 ? replace(format(datum.value, 'd'), '−', '-') : ''",
                "tickSize": {"condition": {"test": "datum.value % 1 === 0", "value": -40}, "value": -20},
                "labelPadding": 53}},
            "y": {"field": "y", "type": "quantitative", "scale": {"domain": [0, 0.39], "nice": false},
              "axis": {"orient": "right", "values": [0, 0.05, 0.1, 0.15, 0.2, 0.25, 0.3, 0.35], "title": null, "zindex": 1,
                "labelExpr": "abs(datum.value * 10 - round(datum.value * 10)) < 0.01 ? format(datum.value, '.1~f') : ''",
                "tickSize": {"condition": {"test": "abs(datum.value * 10 - round(datum.value * 10)) < 0.01", "value": -42}, "value": -22},
                "labelPadding": 61}},
            "color": {"field": "s", "type": "nominal", "scale": {"domain": ["ADOS", "TDOS", "σ"], "range": ["#000000", "#ff0000", "#00ff00"]},
              "legend": {"orient": "none", "legendX": -142, "legendY": 101, "title": null, "symbolType": "stroke", "symbolSize": 6724, "symbolStrokeWidth": 8, "symbolOffset": 15, "labelOffset": 33, "labelFont": "Liberation Serif", "labelFontSize": 56, "labelColor": "black", "labelLimit": 400, "padding": 11, "clipHeight": 56, "rowPadding": 1, "strokeColor": "black", "fillColor": "white", "labelExpr": "(datum.label === 'σ' ? '\u00a0σ' : datum.label) + '\u2009'", "zindex": 1}},
            "strokeDash": {"field": "s", "type": "nominal", "scale": {"domain": ["ADOS", "TDOS", "σ"], "range": [[54, 21], [54, 21], [1, 0]]},
              "legend": {"orient": "none", "legendX": -142, "legendY": 101, "title": null, "symbolType": "stroke", "symbolSize": 6724, "symbolStrokeWidth": 8, "symbolOffset": 15, "labelOffset": 33, "labelFont": "Liberation Serif", "labelFontSize": 56, "labelColor": "black", "labelLimit": 400, "padding": 11, "clipHeight": 56, "rowPadding": 1, "strokeColor": "black", "fillColor": "white", "labelExpr": "(datum.label === 'σ' ? '\u00a0σ' : datum.label) + '\u2009'", "zindex": 1}}
          }
        },
        {
          "data": {"values": [{"x": -1.645}, {"x": 1.669}]},
          "mark": {"type": "point", "shape": "M0,-1L0.5,0.04L0.13,0.04L0.13,1L-0.13,1L-0.13,0.04L-0.5,0.04Z", "size": 2704, "filled": true, "color": "black", "opacity": 1, "strokeWidth": 0, "yOffset": 32},
          "encoding": {
            "x": {"field": "x", "type": "quantitative", "scale": {"domain": [-2.2, 2.2], "nice": false, "zero": false}},
            "y": {"datum": 0, "type": "quantitative", "scale": {"domain": [0, 0.39], "nice": false}}
          }
        },
        {
          "data": {"values": [{"x": -0.04, "y": 0.292, "t": "W = 1.2"}]},
          "mark": {"type": "text", "font": "Liberation Serif", "fontSize": 56, "color": "black", "align": "center", "baseline": "middle"},
          "encoding": {
            "x": {"field": "x", "type": "quantitative", "scale": {"domain": [-2.2, 2.2], "nice": false, "zero": false}},
            "y": {"field": "y", "type": "quantitative", "scale": {"domain": [0, 0.39], "nice": false}},
            "text": {"field": "t"}
          }
        }
      ]
    }
  ]
}
